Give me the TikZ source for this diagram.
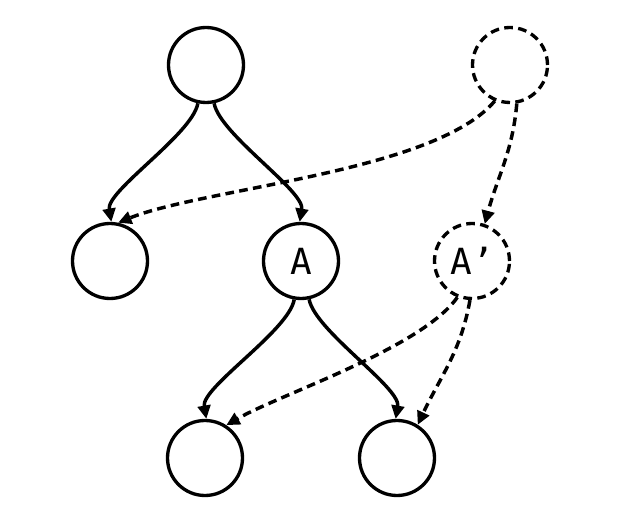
\documentclass[tikz,border=0pt]{standalone}
\usepackage{fontspec}
\newfontfamily\labelfont{DejaVu Sans Mono}
\usetikzlibrary{arrows.meta}
\begin{document}
\begin{tikzpicture}[x=0.75pt,y=-0.75pt,
  treenode/.style={circle,draw,line width=2.5pt,minimum size=56.25pt,inner sep=0pt,font=\labelfont\fontsize{27}{27}\selectfont},
  ghost/.style={treenode,dash pattern=on 6.5pt off 4pt},
  link/.style={line width=2.6pt,-{Triangle[length=10pt,width=9.5pt]}},
  ghostlink/.style={link,dash pattern=on 6.5pt off 4pt}]
\useasboundingbox (0,0) rectangle (632,523);
\node[treenode] (r) at (206,65) {};
\node[ghost] (rp) at (510,65) {};
\node[treenode] (l) at (110,261) {};
\node[treenode] (a) at (301,261) {A};
\node[ghost] (ap) at (472,261) {A’};
\node[treenode] (bl) at (205,458) {};
\node[treenode] (br) at (397,458) {};
\draw[link] (r.-102) to[out=-100,in=100,looseness=0.55] (l.88);
\draw[link] (r.-78) to[out=-80,in=80,looseness=0.55] (a.92);
\draw[link] (a.-100) to[out=-100,in=100,looseness=0.55] (bl.88);
\draw[link] (a.-78) to[out=-80,in=80,looseness=0.55] (br.92);
\draw[ghostlink] (rp.-113) to[out=-130,in=22,looseness=0.6] (l.78);
\draw[ghostlink] (rp.-80) to[out=-95,in=75] (ap.71);
\draw[ghostlink] (ap.-112) to[out=-125,in=30,looseness=0.6] (bl.57);
\draw[ghostlink] (ap.-93) to[out=-100,in=65] (br.58);
\end{tikzpicture}
\end{document}
